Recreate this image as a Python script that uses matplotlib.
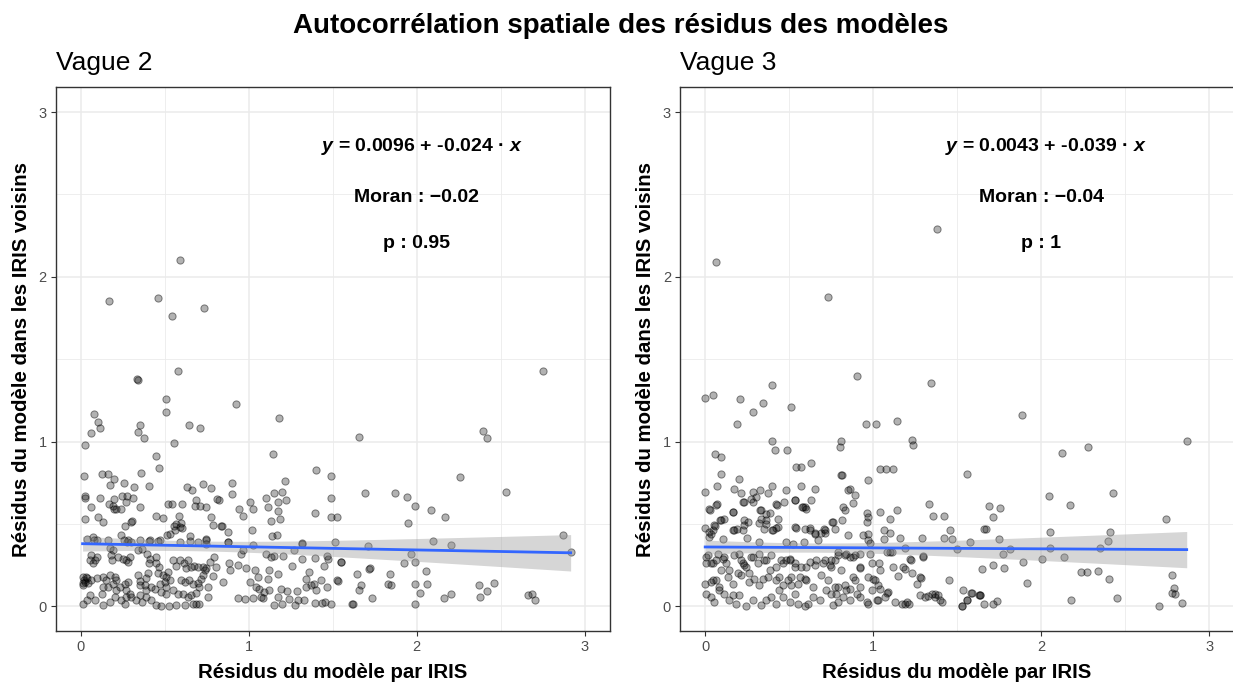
import numpy as np
import matplotlib
matplotlib.use("Agg")
import matplotlib.pyplot as plt

plt.rcParams["font.family"] = ["Liberation Sans", "DejaVu Sans"]
plt.rcParams["mathtext.fontset"] = "custom"
plt.rcParams["mathtext.it"] = "Liberation Sans:italic:bold"
plt.rcParams["mathtext.rm"] = "Liberation Sans:bold"

# ---- data (residual per IRIS, neighbours' mean residual)
x_v2 = [0.166, 0.46, 0.59, 0.54, 0.735, 2.75, 0.58, 0.336, 0.34, 0.504, 0.504, 0.924, 0.079, 0.103, 0.113, 0.059, 0.026, 0.35, 0.342, 0.376, 0.641, 0.71, 0.556, 0.445, 0.463, 1.177, 1.145,
        1.658, 2.394, 2.42, 2.257, 2.53,
        0.016, 0.127, 0.164, 0.172, 0.198, 0.257, 0.316, 0.36, 0.404, 0.026, 0.022, 0.113, 0.061, 0.168, 0.198, 0.198, 0.241, 0.247, 0.275, 0.309, 0.267, 0.35, 0.026, 0.103, 0.129, 0.305, 0.300, 0.265, 0.239, 0.257, 0.277, 0.164, 0.034, 0.081, 0.35, 0.404, 0.459, 0.489, 0.445, 0.52, 0.54, 0.60, 0.556, 0.583, 0.595, 0.60, 0.514, 0.633, 0.66, 0.684, 0.677, 0.712, 0.746, 0.726, 0.777, 0.823, 0.776, 0.786, 0.839, 0.875, 0.651, 0.592, 0.742, 0.875, 0.898, 0.898, 0.942, 0.967, 1.009, 1.027, 1.019, 1.104, 1.147, 1.112, 1.13, 1.171, 1.171, 1.199, 1.187, 1.223, 1.215, 1.135, 1.169, 1.318, 1.40, 1.393, 1.488, 1.488, 1.491, 1.523, 1.511,
        0.192, 0.212, 0.811, 0.564, 0.588, 0.558, 0.528, 0.469, 0.281, 0.301, 0.41, 0.073, 0.093, 0.172, 0.192, 0.647, 0.696, 0.746, 0.746, 0.835, 1.023, 0.963, 0.954,
        1.693, 1.871, 1.941, 1.992, 1.949, 2.087, 2.17, 2.095, 2.206, 2.872, 2.916, 1.711,
        0.063, 0.083, 0.053, 0.073, 0.093, 0.182, 0.188, 0.222, 0.251, 0.271, 0.291, 0.281, 0.394, 0.41, 0.404, 0.449, 0.34, 0.366, 0.449, 0.465, 0.548, 0.588, 0.637, 0.611, 0.568, 0.623, 0.657, 0.671, 0.696, 0.726, 0.746, 0.766, 0.795, 0.805,
        0.014, 0.034, 0.024, 0.010, 0.043, 0.063, 0.093, 0.132, 0.152, 0.172, 0.202, 0.212, 0.132, 0.162, 0.192, 0.212, 0.231, 0.261, 0.281, 0.271, 0.291, 0.267, 0.301, 0.34, 0.35, 0.35, 0.386, 0.40, 0.42, 0.44, 0.38, 0.39, 0.459, 0.489, 0.509, 0.518, 0.469, 0.499, 0.509, 0.528, 0.598, 0.617, 0.643, 0.667, 0.696, 0.716, 0.726, 0.736, 0.706, 0.755, 0.755,
        0.053, 0.083, 0.123, 0.132, 0.172, 0.202, 0.241, 0.261, 0.014, 0.034, 0.33, 0.35, 0.366, 0.39, 0.42, 0.449, 0.479, 0.524, 0.479, 0.509, 0.548, 0.577, 0.568, 0.617, 0.607, 0.637, 0.657, 0.686, 0.667, 0.683, 0.706, 0.02, 0.03, 0.015,
        0.874, 1.319, 1.102, 1.132, 1.147, 1.205, 1.266, 1.319, 1.395, 1.464, 1.474, 1.549, 0.88, 0.888, 0.934, 0.983, 1.039, 1.052, 1.118, 1.112, 1.171, 1.256, 1.359, 1.448, 0.845, 1.007, 1.042, 1.062, 1.092, 1.122, 1.191, 1.23, 1.284, 1.339, 1.339, 1.369, 1.389, 1.428, 1.399, 1.468, 1.527, 0.934, 0.979, 1.027, 1.072, 1.082, 1.151, 1.171, 1.197, 1.24, 1.276, 1.29, 1.33, 1.395, 1.438, 1.488, 1.62, 0.785,
        1.966, 1.925, 1.992, 2.052, 1.547, 1.715, 1.72, 1.642, 1.838, 1.531, 1.666, 1.656, 1.828, 1.848, 1.992, 2.061, 2.018, 1.735, 1.616, 1.454, 1.992, 2.162, 2.206, 2.368, 2.461, 2.42, 2.376, 2.665, 2.684, 2.704]
y_v2 = [1.85, 1.87, 2.10, 1.76, 1.81, 1.43, 1.43, 1.38, 1.375, 1.26, 1.18, 1.23, 1.17, 1.12, 1.08, 1.05, 0.98, 1.10, 1.06, 1.02, 1.10, 1.08, 0.99, 0.91, 0.84, 1.14, 0.925,
        1.028, 1.065, 1.022, 0.785, 0.696,
        0.79, 0.80, 0.80, 0.735, 0.775, 0.75, 0.725, 0.81, 0.73, 0.66, 0.67, 0.66, 0.60, 0.62, 0.65, 0.59, 0.59, 0.67, 0.67, 0.66, 0.63, 0.60, 0.53, 0.54, 0.51, 0.515, 0.51, 0.49, 0.435, 0.405, 0.39, 0.405, 0.41, 0.405, 0.40, 0.395, 0.395, 0.535, 0.55, 0.62, 0.62, 0.62, 0.485, 0.55, 0.505, 0.475, 0.43, 0.725, 0.705, 0.645, 0.61, 0.61, 0.60, 0.74, 0.715, 0.645, 0.54, 0.495, 0.485, 0.45, 0.425, 0.39, 0.405, 0.39, 0.75, 0.68, 0.59, 0.55, 0.63, 0.59, 0.46, 0.66, 0.69, 0.60, 0.52, 0.635, 0.58, 0.695, 0.53, 0.645, 0.76, 0.425, 0.435, 0.38, 0.83, 0.565, 0.79, 0.655, 0.54, 0.54, 0.39,
        0.61, 0.59, 0.65, 0.50, 0.48, 0.46, 0.44, 0.405, 0.40, 0.39, 0.40, 0.42, 0.40, 0.356, 0.34, 0.395, 0.39, 0.41, 0.38, 0.49, 0.37, 0.34, 0.32,
        0.688, 0.688, 0.662, 0.609, 0.504, 0.583, 0.539, 0.399, 0.372, 0.433, 0.328, 0.364,
        0.31, 0.28, 0.28, 0.26, 0.30, 0.31, 0.28, 0.30, 0.29, 0.28, 0.30, 0.27, 0.32, 0.29, 0.26, 0.30, 0.34, 0.35, 0.26, 0.24, 0.28, 0.28, 0.28, 0.26, 0.243, 0.23, 0.24, 0.243, 0.24, 0.24, 0.23, 0.27, 0.30, 0.24,
        0.18, 0.17, 0.15, 0.13, 0.14, 0.16, 0.17, 0.18, 0.16, 0.19, 0.175, 0.16, 0.12, 0.118, 0.134, 0.097, 0.117, 0.138, 0.148, 0.097, 0.077, 0.057, 0.057, 0.19, 0.128, 0.154, 0.17, 0.20, 0.117, 0.107, 0.128, 0.097, 0.20, 0.19, 0.18, 0.21, 0.138, 0.148, 0.12, 0.158, 0.158, 0.148, 0.158, 0.138, 0.142, 0.168, 0.19, 0.22, 0.117, 0.117, 0.057,
        0.067, 0.036, 0.077, 0.006, 0.026, 0.057, 0.036, 0.016, 0.012, 0.036, 0.036, 0.067, 0.026, 0.057, 0.036, 0.006, 0.0, 0.0, 0.087, 0.077, 0.097, 0.077, 0.006, 0.006, 0.077, 0.057, 0.067, 0.081, 0.012, 0.012, 0.012, 0.16, 0.18, 0.14,
        0.39, 0.385, 0.32, 0.30, 0.304, 0.304, 0.344, 0.29, 0.296, 0.304, 0.29, 0.27, 0.26, 0.22, 0.25, 0.235, 0.22, 0.18, 0.223, 0.166, 0.194, 0.243, 0.208, 0.243, 0.146, 0.146, 0.117, 0.107, 0.087, 0.097, 0.107, 0.093, 0.093, 0.168, 0.117, 0.128, 0.134, 0.158, 0.097, 0.117, 0.158, 0.05, 0.044, 0.05, 0.056, 0.053, 0.006, 0.056, 0.016, 0.047, 0.006, 0.036, 0.036, 0.02, 0.02, 0.012, 0.012, 0.185,
        0.32, 0.26, 0.267, 0.214, 0.267, 0.227, 0.23, 0.196, 0.196, 0.154, 0.128, 0.101, 0.135, 0.128, 0.135, 0.135, 0.083, 0.05, 0.014, 0.024, 0.014, 0.05, 0.075, 0.128, 0.144, 0.091, 0.056, 0.067, 0.077, 0.04]

x_v3 = [0.067, 0.734, 1.38, 0.903, 1.343, 0.0, 0.044, 0.205, 0.396, 0.345, 0.285, 0.508, 0.189, 0.955, 1.016, 1.144, 0.396, 0.414, 0.49, 0.809, 0.801, 1.231, 1.239, 0.06, 0.094, 0.542, 0.628, 1.885, 2.126, 2.281, 2.867,
        0.094, 0.199, 0.817, 0.972, 1.04, 1.076, 1.12, 1.558, 0.0, 0.07, 0.173, 0.215, 0.285, 0.327, 0.371, 0.396, 0.482, 0.568, 0.653, 0.223, 0.285, 0.301, 0.424, 0.43, 0.534, 0.578, 0.592, 0.851, 0.861, 0.891, 0.879, 0.835, 0.817, 0.757, 0.773, 0.962, 0.972, 0.962, 1.04, 1.1, 1.144, 1.333, 1.359, 1.421, 0.028, 0.024, 0.07, 0.112, 0.163, 0.086, 0.06, 0.044, 0.034, 0.024, 0.0, 0.233, 0.233, 0.253, 0.319, 0.363, 0.383, 0.396, 0.424, 0.432, 0.327, 0.163, 0.189, 0.223, 0.542, 0.622, 0.653, 0.707, 0.715, 1.066, 1.1, 1.16, 1.293, 1.419, 1.455, 1.467, 0.853, 0.937, 0.972, 0.249, 0.319, 0.104, 0.482, 0.522, 0.586, 0.671,
        0.572, 0.064, 0.163, 0.233, 0.273, 0.333, 0.363, 0.472, 0.532, 0.582, 0.602, 0.632, 0.811, 0.821,
        0.333, 0.363, 0.402, 0.353, 0.432, 0.532, 0.592, 0.622, 0.651, 0.691, 0.711, 0.761, 0.173, 0.094, 0.054, 0.024,
        2.048, 2.17, 2.429, 1.687, 1.755, 1.714, 2.745, 1.669, 2.056, 2.411, 2.401, 1.574, 1.748, 0.97, 0.98, 1.066, 1.658, 1.499,
        0.016, 0.044, 0.004, 0.0, 0.034, 0.064, 0.074, 0.104, 0.124, 0.094, 0.144, 0.203, 0.223, 0.243, 0.193, 0.263, 0.283, 0.323, 0.363, 0.383, 0.343, 0.423, 0.462, 0.482, 0.502, 0.532, 0.442, 0.492, 0.512, 0.562, 0.602, 0.641, 0.602, 0.651, 0.701, 0.751, 0.751, 0.791, 0.841, 0.881, 0.921, 0.98, 0.811, 0.881, 0.921, 0.991, 1.036, 1.0, 1.10, 1.12, 1.219, 1.179, 1.229, 1.279, 1.259, 1.299, 1.149, 1.2, 1.215, 1.279, 1.329, 1.369, 1.389, 1.409, 1.449, 1.528, 1.538, 1.558, 1.588, 1.628,
        0.004, 0.034, 0.054, 0.084, 0.114, 0.143, 0.163, 0.183, 0.203, 0.243, 0.283, 0.333, 0.363, 0.393, 0.423, 0.442, 0.462, 0.502, 0.532, 0.552, 0.592, 0.611, 0.641, 0.681, 0.721, 0.751, 0.761, 0.791, 0.821, 0.841, 0.861, 0.901, 0.921, 0.961, 0.97, 0.991, 1.02, 1.04, 1.08, 1.13, 1.17,
        0.004, 0.034, 0.064, 0.114, 0.173, 0.213, 0.233, 0.273, 0.313, 0.353, 0.393, 0.452, 0.502, 0.532, 0.572, 0.622, 0.661, 0.711, 0.741, 0.771,
        0.044, 0.084, 0.133, 0.163, 0.213, 0.263, 0.293, 0.323, 0.373, 0.423, 0.462, 0.512, 0.552, 0.592, 0.691, 0.731, 0.771,
        1.817, 1.774, 2.056, 2.349, 2.136, 2.006, 1.892, 1.651, 1.714, 1.781, 1.919, 2.237, 2.271, 2.341, 2.403, 2.78, 2.79, 2.78, 2.80, 2.839, 2.704, 2.18, 2.452, 1.584, 1.634, 1.558, 1.662, 1.711, 1.738,
        0.791, 0.831, 0.861, 0.891, 1.08, 1.11, 1.19, 1.225, 1.299, 0.921, 1.04, 1.19, 1.285, 0.97, 1.01, 1.026, 0.891, 0.861, 0.831, 0.791, 0.781, 0.921, 1.026, 1.07, 1.09, 1.19, 1.309, 1.349, 1.369, 1.399, 1.532, 1.638]
y_v3 = [2.089, 1.878, 2.289, 1.397, 1.354, 1.267, 1.281, 1.257, 1.344, 1.231, 1.178, 1.212, 1.107, 1.107, 1.107, 1.125, 1.002, 0.951, 0.951, 1.002, 0.967, 1.012, 0.978, 0.923, 0.907, 0.846, 0.872, 1.16, 0.933, 0.967, 1.002,
        0.801, 0.775, 0.794, 0.765, 0.836, 0.836, 0.836, 0.801, 0.696, 0.733, 0.714, 0.688, 0.696, 0.704, 0.688, 0.733, 0.704, 0.733, 0.714, 0.636, 0.636, 0.662, 0.619, 0.615, 0.644, 0.601, 0.601, 0.704, 0.714, 0.674, 0.627, 0.583, 0.522, 0.512, 0.469, 0.567, 0.539, 0.512, 0.575, 0.53, 0.583, 0.619, 0.548, 0.548, 0.583, 0.593, 0.619, 0.53, 0.575, 0.522, 0.486, 0.461, 0.441, 0.421, 0.478, 0.522, 0.494, 0.512, 0.506, 0.522, 0.567, 0.461, 0.478, 0.53, 0.583, 0.461, 0.469, 0.461, 0.478, 0.478, 0.443, 0.469, 0.443, 0.461, 0.443, 0.417, 0.417, 0.417, 0.461, 0.409, 0.435, 0.435, 0.441, 0.417, 0.39, 0.409, 0.39, 0.38, 0.39, 0.40,
        0.846, 0.613, 0.573, 0.634, 0.654, 0.583, 0.563, 0.634, 0.644, 0.603, 0.593, 0.644, 0.795, 0.603,
        0.532, 0.502, 0.461, 0.472, 0.482, 0.482, 0.472, 0.461, 0.437, 0.445, 0.461, 0.512, 0.461, 0.522, 0.492, 0.451,
        0.67, 0.617, 0.688, 0.609, 0.599, 0.539, 0.53, 0.469, 0.451, 0.451, 0.399, 0.39, 0.407, 0.40, 0.384, 0.411, 0.472, 0.35,
        0.31, 0.26, 0.26, 0.138, 0.148, 0.158, 0.32, 0.29, 0.26, 0.219, 0.219, 0.32, 0.26, 0.239, 0.199, 0.199, 0.30, 0.32, 0.28, 0.219, 0.168, 0.239, 0.26, 0.28, 0.29, 0.239, 0.178, 0.158, 0.128, 0.178, 0.158, 0.117, 0.239, 0.249, 0.26, 0.239, 0.28, 0.31, 0.32, 0.30, 0.32, 0.32, 0.219, 0.178, 0.239, 0.26, 0.26, 0.168, 0.33, 0.239, 0.29, 0.239, 0.199, 0.178, 0.138, 0.30, 0.182, 0.026, 0.016, 0.067, 0.06, 0.077, 0.067, 0.026, 0.162, 0.0, 0.097, 0.036, 0.083, 0.067,
        0.077, 0.057, 0.026, 0.097, 0.077, 0.036, 0.067, 0.016, 0.067, 0.0, 0.036, 0.006, 0.036, 0.057, 0.012, 0.097, 0.057, 0.026, 0.077, 0.016, 0.0, 0.016, 0.057, 0.036, 0.097, 0.077, 0.006, 0.026, 0.057, 0.097, 0.036, 0.077, 0.117, 0.026, 0.016, 0.097, 0.036, 0.107, 0.081, 0.026, 0.016,
        0.30, 0.26, 0.28, 0.30, 0.31, 0.28, 0.249, 0.30, 0.26, 0.28, 0.31, 0.28, 0.28, 0.26, 0.239, 0.269, 0.28, 0.28, 0.249, 0.28,
        0.158, 0.117, 0.178, 0.138, 0.188, 0.148, 0.168, 0.128, 0.178, 0.158, 0.128, 0.178, 0.138, 0.168, 0.188, 0.158, 0.117,
        0.346, 0.32, 0.354, 0.354, 0.302, 0.285, 0.269, 0.225, 0.249, 0.233, 0.144, 0.206, 0.206, 0.217, 0.164, 0.188, 0.114, 0.083, 0.073, 0.022, 0.004, 0.04, 0.049, 0.083, 0.067, 0.04, 0.012, 0.012, 0.03,
        0.33, 0.31, 0.30, 0.31, 0.33, 0.33, 0.356, 0.283, 0.304, 0.235, 0.219, 0.229, 0.174, 0.178, 0.158, 0.128, 0.158, 0.107, 0.128, 0.117, 0.077, 0.057, 0.036, 0.057, 0.087, 0.012, 0.057, 0.077, 0.057, 0.036, 0.0, 0.067]

# smoother: intercept, slope, band half-width at its narrowest,
# x where it is narrowest, growth of the half-width per unit of x
fit_v2 = (0.380, -0.019, 0.030, 0.70, 0.048)
fit_v3 = (0.360, -0.0056, 0.028, 0.65, 0.048)

panels = [("Vague 2", x_v2, y_v2, fit_v2, "0.0096", "-0.024", "\u22120.02", "0.95"),
          ("Vague 3", x_v3, y_v3, fit_v3, "0.0043", "-0.039", "\u22120.04", "1")]

W, H = 1233, 690
fig = plt.figure(figsize=(W / 100, H / 100), dpi=100)
fig.patch.set_facecolor("white")
fig.text(621 / W, 1 - 26 / H, "Autocorrélation spatiale des résidus des modèles",
         ha="center", va="center", fontsize=20, fontweight="bold")

lefts = [55.7 / W, 680 / W]
for (name, xs, ys, fit, a, b, moran, pval), left in zip(panels, lefts):
    xs = np.asarray(xs); ys = np.asarray(ys)
    ax = fig.add_axes([left, 1 - 631 / H, 0.4495, (631 - 87.3) / H])
    ax.set_xlim(-0.15, 3.15); ax.set_ylim(-0.15, 3.15)
    ax.set_xticks([0, 1, 2, 3]); ax.set_yticks([0, 1, 2, 3])
    ax.set_xticks([0.5, 1.5, 2.5], minor=True); ax.set_yticks([0.5, 1.5, 2.5], minor=True)
    ax.grid(which="major", color="#EBEBEB", lw=1.1, zorder=0)
    ax.grid(which="minor", color="#EBEBEB", lw=0.6, zorder=0)
    ax.tick_params(which="minor", length=0)
    ax.tick_params(which="major", length=3.5, width=0.8, color="#333333",
                   labelsize=10.5, labelcolor="#4D4D4D", pad=3)
    for sp in ax.spines.values():
        sp.set_color("#333333"); sp.set_linewidth(1.0)
    ax.set_axisbelow(True)

    ax.scatter(xs, ys, s=27, facecolors=(0, 0, 0, 0.3), edgecolors=(0, 0, 0, 0.45),
               linewidths=0.7, zorder=2)

    # lm smoother with its confidence band, over the x range of the data
    icpt, slope, hw0, xm, grow = fit
    gx = np.linspace(xs.min(), xs.max(), 80)
    gy = icpt + slope * gx
    hw = np.sqrt(hw0 ** 2 + (grow * (gx - xm)) ** 2)
    ax.fill_between(gx, gy - hw, gy + hw, color="#999999", alpha=0.4, lw=0, zorder=3)
    ax.plot(gx, gy, color="#3366FF", lw=2.0, zorder=4)

    ax.text(2.03, 2.79, f"$y$ = {a} + {b} \u00b7 $x$", ha="center", va="center",
            fontsize=14, fontweight="bold")
    ax.text(2.0, 2.48, f"Moran : {moran}", ha="center", va="center",
            fontsize=14, fontweight="bold")
    ax.text(2.0, 2.20, f"p : {pval}", ha="center", va="center", fontsize=14, fontweight="bold")

    bb = ax.get_position()
    fig.text(bb.x0, 1 - 63 / H, name, ha="left", va="center", fontsize=19)
    fig.text(bb.x0 + bb.width / 2, 1 - 672 / H, "Résidus du modèle par IRIS",
             ha="center", va="center", fontsize=14.7, fontweight="bold")
    fig.text(bb.x0 - 34 / W, bb.y0 + bb.height / 2, "Résidus du modèle dans les IRIS voisins",
             ha="center", va="center", rotation=90, fontsize=14.7, fontweight="bold")

fig.savefig("out.png", dpi=100, facecolor="white")
